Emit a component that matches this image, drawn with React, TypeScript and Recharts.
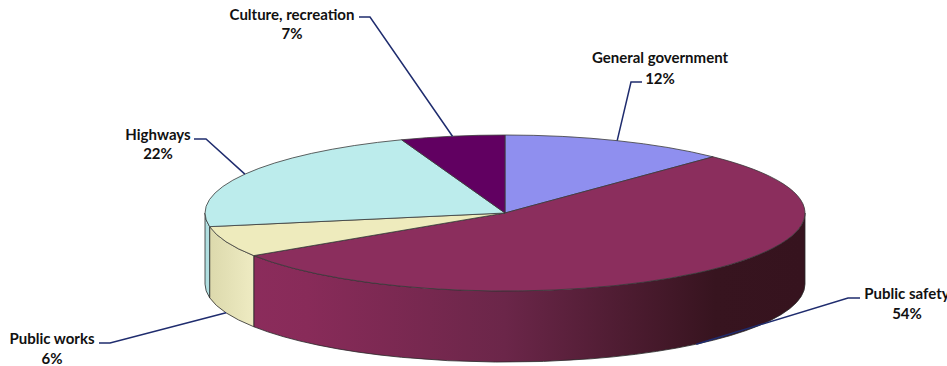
import React from 'react';
import { PieChart, Pie } from 'recharts';

// ---- data ----
const categories = ['General government', 'Public safety', 'Public works', 'Highways', 'Culture, recreation'];
const values = [12.2, 53.6, 6.4, 22.2, 5.6];
const percentLabels = ['12%', '54%', '6%', '22%', '7%'];

// ---- styles ----
const topColors = ['#8F8FEF', '#8B2E5D', '#EEEBBD', '#BCECEC', '#610061'];
const sideStops: [number, string][][] = [
  [[0, '#7373C8'], [1, '#5B5BA2']],
  [[0, '#8E2D5E'], [0.17, '#882B59'], [0.5, '#6B2649'], [0.85, '#37141F'], [1, '#36131E']],
  [[0, '#DAD7AA'], [0.08, '#EEEBC2'], [1, '#EEEBC2']],
  [[0, '#B0DEE0'], [0.05, '#BDEAEA'], [1, '#BDEAEA']],
  [[0, '#500050'], [1, '#300030']],
];
// label layout: elbow point, end of horizontal segment, text center x, line y's
const labelLayout = [
  { elbow: [631, 82], end: [642, 82], tx: 660, ty: [57, 78] },
  { elbow: [848, 298], end: [860, 298], tx: 907, ty: [293, 313] },
  { elbow: [110, 343], end: [99, 343], tx: 52, ty: [338, 358] },
  { elbow: [206, 139], end: [194, 139], tx: 158, ty: [134, 153] },
  { elbow: [370, 17], end: [359, 17], tx: 292, ty: [14, 33] },
];

const data = categories.map((name, i) => ({ name, value: values[i] }));

const RAD = Math.PI / 180;
const TILT = 0.26; // ry / rx
const DEPTH = 0.237; // side height / rx
const FONT = "Lato, 'Open Sans', sans-serif";

function Slice(props: any) {
  const { cx, cy, outerRadius, startAngle, endAngle, midAngle, index } = props;
  const rx = outerRadius;
  const ry = outerRadius * TILT;
  const depth = outerRadius * DEPTH;
  const pt = (a: number, dy = 0) => [cx + rx * Math.cos(a * RAD), cy - ry * Math.sin(a * RAD) + dy];
  const hi = Math.max(startAngle, endAngle);
  const lo = Math.min(startAngle, endAngle);
  const large = hi - lo > 180 ? 1 : 0;
  const p1 = pt(hi);
  const p2 = pt(lo);
  const top = `M${cx},${cy} L${p1[0]},${p1[1]} A${rx},${ry} 0 ${large} 1 ${p2[0]},${p2[1]} Z`;

  const aHi = Math.min(hi, 0);
  const aLo = Math.max(lo, -180);
  let side: string | null = null;
  if (aHi > aLo) {
    const s1 = pt(aHi);
    const s2 = pt(aLo);
    const b2 = pt(aLo, depth);
    const b1 = pt(aHi, depth);
    side = `M${s1[0]},${s1[1]} A${rx},${ry} 0 0 1 ${s2[0]},${s2[1]} L${b2[0]},${b2[1]} A${rx},${ry} 0 0 0 ${b1[0]},${b1[1]} Z`;
  }
  const gid = `side-grad-${index}`;

  const front = Math.sin(midAngle * RAD) < 0;
  const anchor = pt(midAngle, front ? depth : 0);
  const lay = labelLayout[index];

  return (
    <g>
      <defs>
        <linearGradient id={gid} gradientUnits="userSpaceOnUse" x1={cx - rx} y1={0} x2={cx + rx} y2={0}>
          {sideStops[index].map(([o, c], k) => (
            <stop key={k} offset={o} stopColor={c} />
          ))}
        </linearGradient>
      </defs>
      {side && <path d={side} fill={`url(#${gid})`} stroke="#2a2a2a" strokeWidth={0.8} />}
      <path d={top} fill={topColors[index]} stroke="#3a3a3a" strokeWidth={0.8} strokeLinejoin="round" />
      <polyline
        points={`${anchor[0]},${anchor[1]} ${lay.elbow[0]},${lay.elbow[1]} ${lay.end[0]},${lay.end[1]}`}
        fill="none"
        stroke="#1F2C6E"
        strokeWidth={1.5}
      />
      <text
        x={lay.tx}
        y={lay.ty[0]}
        textAnchor="middle"
        dominantBaseline="central"
        fontFamily={FONT}
        fontWeight={700}
        fontSize={15}
        fill="#111111"
      >
        {categories[index]}
      </text>
      <text
        x={lay.tx}
        y={lay.ty[1]}
        textAnchor="middle"
        dominantBaseline="central"
        fontFamily={FONT}
        fontWeight={700}
        fontSize={15}
        fill="#111111"
      >
        {percentLabels[index]}
      </text>
    </g>
  );
}

export default function App() {
  return (
    <div style={{ position: 'absolute', left: 0, top: 0, width: 947, height: 366, background: '#ffffff' }}>
      <PieChart width={947} height={366} margin={{ top: 0, right: 0, bottom: 0, left: 0 }}>
        <Pie
          data={data}
          dataKey="value"
          nameKey="name"
          cx={505}
          cy={213}
          outerRadius={300}
          startAngle={90}
          endAngle={-270}
          fill="transparent"
          stroke="none"
          label={Slice}
          labelLine={false}
          isAnimationActive={false}
        />
      </PieChart>
    </div>
  );
}
